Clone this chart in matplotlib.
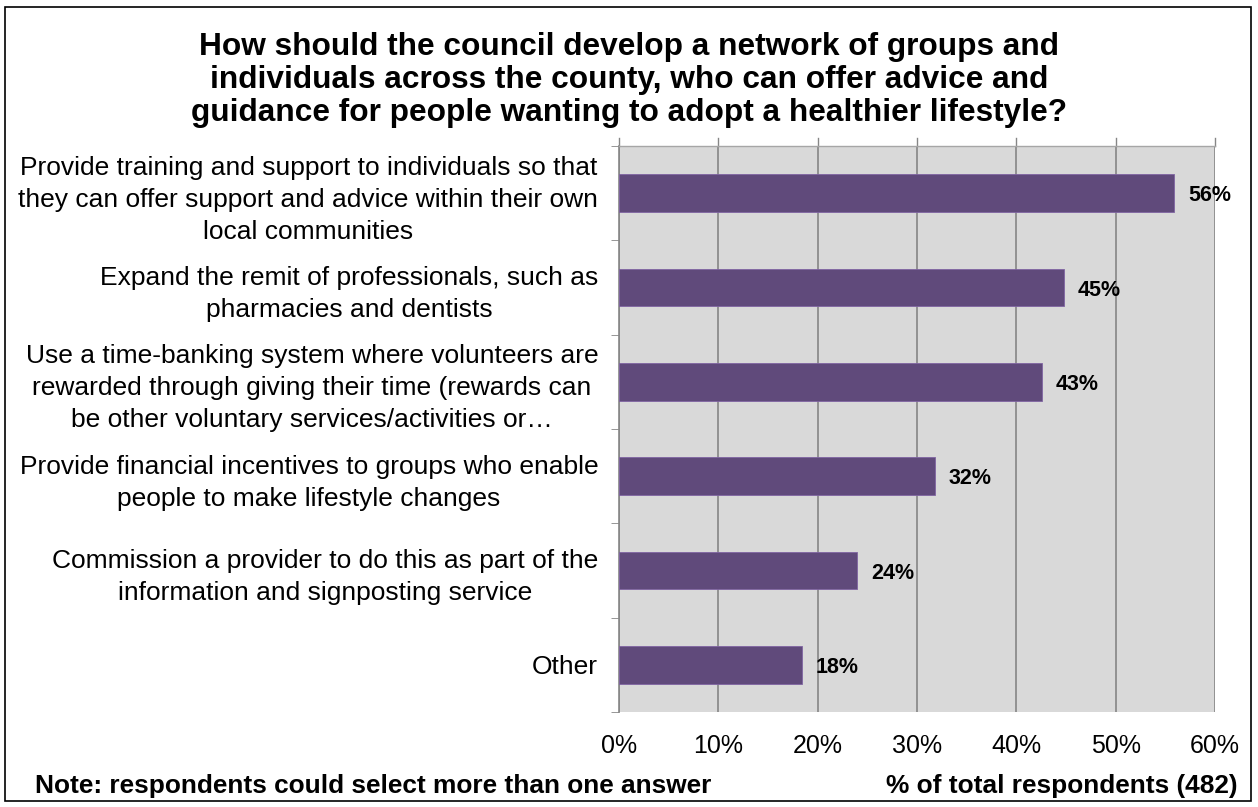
import numpy as np
import matplotlib.pyplot as plt
from matplotlib.patches import Rectangle

plt.rcParams['font.family'] = ['Liberation Sans', 'DejaVu Sans']

categories = [
    'Provide training and support to individuals so that\nthey can offer support and advice within their own\nlocal communities',
    'Expand the remit of professionals, such as\npharmacies and dentists',
    'Use a time-banking system where volunteers are\nrewarded through giving their time (rewards can\nbe other voluntary services/activities or\u2026',
    'Provide financial incentives to groups who enable\npeople to make lifestyle changes',
    'Commission a provider to do this as part of the\ninformation and signposting service',
    'Other',
]
values = [55.9, 44.8, 42.6, 31.8, 24.0, 18.4]
xticks = [0, 10, 20, 30, 40, 50, 60]

title = ('How should the council develop a network of groups and\n'
         'individuals across the county, who can offer advice and\n'
         'guidance for people wanting to adopt a healthier lifestyle?')

fig = plt.figure(figsize=(12.58, 8.07), dpi=100)
ax = fig.add_axes([619 / 1258, 1 - 712 / 807, (1215 - 619) / 1258, (712 - 146) / 807])

y = np.arange(len(categories))
ax.barh(y, values, height=0.4, color='#604a7b', edgecolor='#8064a2', linewidth=0.6, zorder=3)
for yi, v in zip(y, values):
    ax.text(v + 1.4, yi + 0.03, f'{v:.0f}%', va='center', ha='left',
            fontsize=15.5, fontweight='bold', zorder=4)

ax.set_facecolor('#d9d9d9')
ax.set_xlim(0, 60)
ax.set_ylim(len(categories) - 0.5, -0.5)
ax.set_xticks(xticks)
ax.set_xticklabels([f'{t}%' for t in xticks], fontsize=18)
ax.set_yticks(y)
ax.set_yticklabels(categories, fontsize=19, multialignment='center', linespacing=1.42)
ax.set_yticks(np.arange(len(categories) + 1) - 0.5, minor=True)
ax.tick_params(axis='y', which='major', length=0, pad=15)
ax.tick_params(axis='y', which='minor', length=6, color='#868686', direction='out')
ax.tick_params(axis='x', length=0, pad=16)
ax.grid(axis='x', color='#868686', linewidth=1.2, zorder=1)

# gridlines poke slightly above the plot area in the original
for t in xticks:
    ax.plot([t, t], [-0.5, -0.59], color='#868686', linewidth=1.0, clip_on=False, zorder=1)

for side in ['right', 'bottom']:
    ax.spines[side].set_visible(False)
ax.spines['left'].set_color('#868686')
ax.spines['left'].set_linewidth(1.2)
ax.spines['top'].set_color('#a6a6a6')
ax.spines['top'].set_linewidth(1.0)

fig.text(0.5, 1 - 80 / 807, title, ha='center', va='center',
         fontsize=22.8, fontweight='bold', linespacing=1.12)
fig.text(35 / 1258, 1 - 786 / 807, 'Note: respondents could select more than one answer',
         ha='left', va='center', fontsize=18.9, fontweight='bold')
fig.text(1238 / 1258, 1 - 786 / 807, '% of total respondents (482)',
         ha='right', va='center', fontsize=18.9, fontweight='bold')

fig.patches.append(Rectangle((5 / 1258, 1 - 801 / 807), 1246 / 1258, 794 / 807,
                             transform=fig.transFigure, fill=False,
                             edgecolor='black', linewidth=1.2))

fig.savefig('out.png', dpi=100)
